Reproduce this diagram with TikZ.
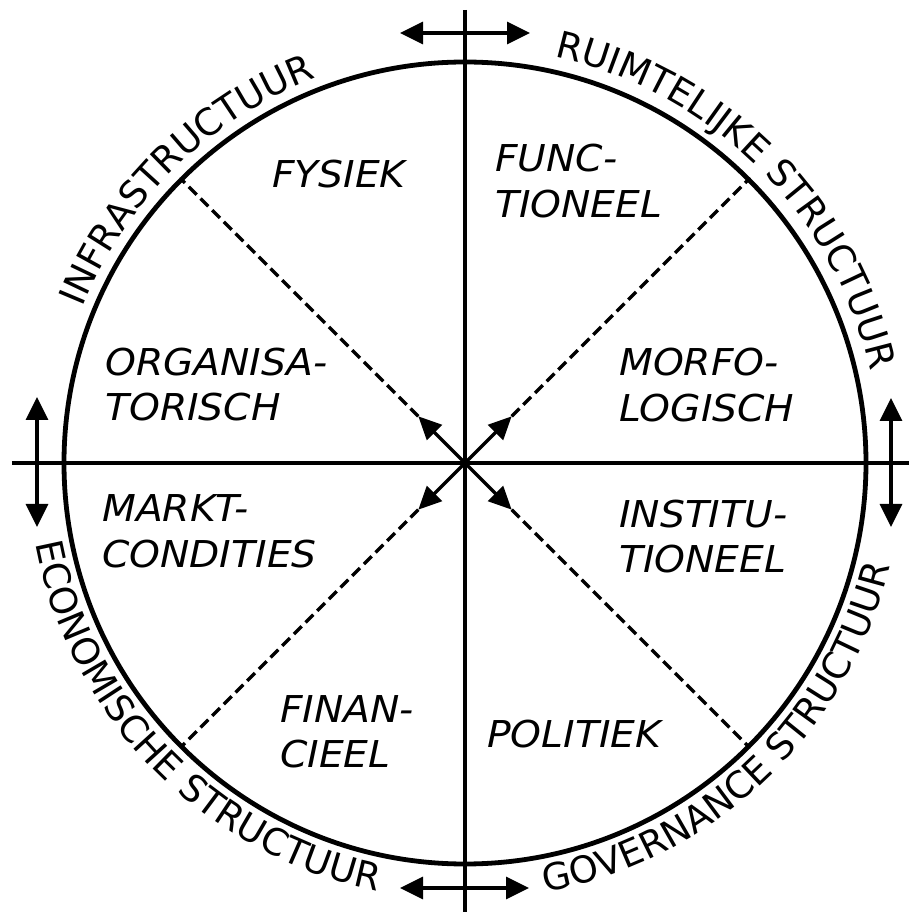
\documentclass[tikz,border=0pt]{standalone}
\usepackage{fontspec}
\setmainfont{DejaVu Sans}
\newfontfamily\lblfont{DejaVu Sans}[FakeStretch=1.06]
\usetikzlibrary{arrows.meta,decorations.text}
\newcommand\curvefont{\fontsize{37}{44}\selectfont}
\begin{document}
\begin{tikzpicture}[x=1pt,y=1pt,
  axisline/.style={line width=4pt},
  ringline/.style={line width=4.8pt},
  dashline/.style={line width=3.2pt, dash pattern=on 11pt off 5.5pt},
  cenarrow/.style={line width=3.5pt, -{Triangle[length=23pt,width=21pt]}},
  dblarrow/.style={line width=3.5pt, {Triangle[length=23pt,width=22pt]}-{Triangle[length=23pt,width=22pt]}},
  lbl/.style={font=\lblfont\fontsize{37}{44}\selectfont\itshape, anchor=base west, inner sep=0pt},
  curved/.style={decorate, decoration={text along path, text align=center, text={|\curvefont|#1}}}
]
\useasboundingbox (-465,-449) rectangle (444,463);
\fill[white] (-465,-449) rectangle (444,463);
\coordinate (C) at (0,0);
\draw[ringline] (C) circle[radius=401];
% axes
\coordinate (top) at (0,453);
\coordinate (bot) at (0,-449);
\coordinate (lft) at (-453,0);
\coordinate (rgt) at (444,0);
\draw[axisline] (top) -- (bot);
\draw[axisline] (lft) -- (rgt);
% central arrows and dashed radii
\foreach \a in {45,135,225,315} {
  \coordinate (t\a) at (\a:66);
  \coordinate (r\a) at (\a:401);
  \draw[cenarrow] (C) -- (t\a);
  \draw[dashline] (t\a) -- (r\a);
}
% double arrows
\coordinate (ta1) at (-65,430); \coordinate (ta2) at (65,430);
\coordinate (ba1) at (-65,-425); \coordinate (ba2) at (64,-425);
\coordinate (la1) at (-428,66); \coordinate (la2) at (-428,-64);
\coordinate (ra1) at (426,65); \coordinate (ra2) at (426,-64);
\draw[dblarrow] (ta1) -- (ta2);
\draw[dblarrow] (ba1) -- (ba2);
\draw[dblarrow] (la1) -- (la2);
\draw[dblarrow] (ra1) -- (ra2);
% curved texts
\path[curved=INFRASTRUCTUUR] (174.5:413) arc[start angle=174.5, end angle=94.5, radius=413];
\path[curved=RUIMTELIJKE STRUCTUUR] (95.2:416) arc[start angle=95.2, end angle=-4.8, radius=416];
\path[curved=ECONOMISCHE STRUCTUUR] (174.5:437) arc[start angle=174.5, end angle=274.5, radius=437];
\path[curved=GOVERNANCE STRUCTUUR] (263.5:437) arc[start angle=263.5, end angle=363.5, radius=437];
% labels
\node[lbl] (fys) at (-193,275) {FYSIEK};
\node[lbl] (func1) at (30,291) {FUNC-};
\node[lbl] (func2) at (30,245) {TIONEEL};
\node[lbl] (org1) at (-360,87) {ORGANISA-};
\node[lbl] (org2) at (-360,42) {TORISCH};
\node[lbl] (mor1) at (154,87) {MORFO-};
\node[lbl] (mor2) at (154,41) {LOGISCH};
\node[lbl] (mar1) at (-363,-59) {MARKT-};
\node[lbl] (mar2) at (-363,-105) {CONDITIES};
\node[lbl] (ins1) at (154,-65) {INSTITU-};
\node[lbl] (ins2) at (154,-110) {TIONEEL};
\node[lbl] (fin1) at (-185,-259) {FINAN-};
\node[lbl] (fin2) at (-185,-304) {CIEEL};
\node[lbl] (pol) at (22,-284) {POLITIEK};
\end{tikzpicture}
\end{document}
